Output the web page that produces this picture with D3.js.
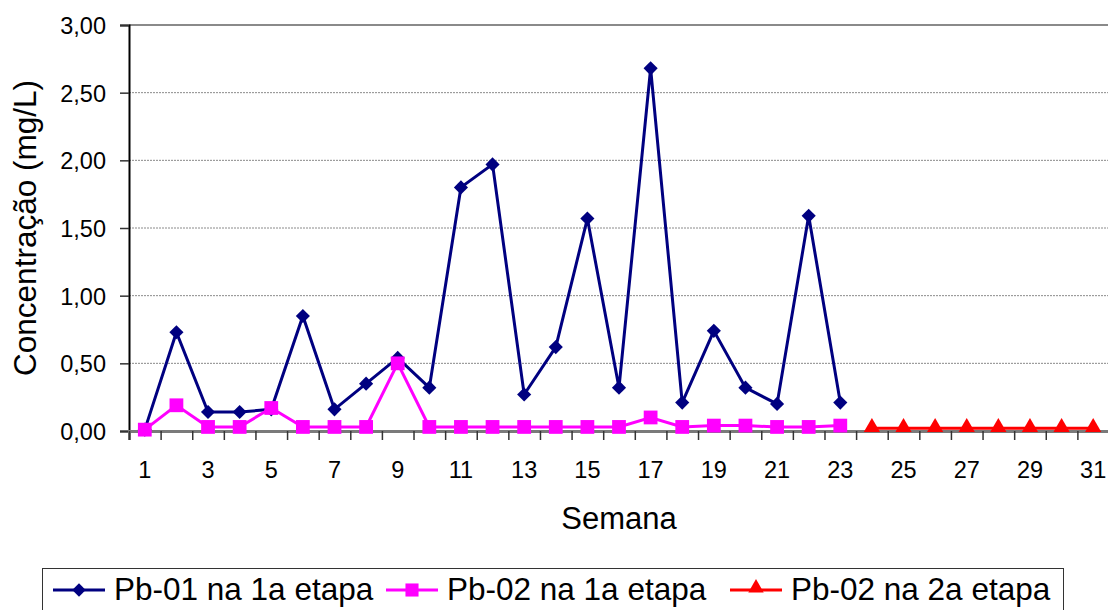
<!DOCTYPE html>
<html><head><meta charset="utf-8">
<script src="https://cdn.jsdelivr.net/npm/d3@7"></script>
<style>
html,body{margin:0;padding:0;background:#fff;}
svg{display:block;font-family:"Liberation Sans",Arial,sans-serif;}
</style></head>
<body><svg id="c" width="1108" height="610"></svg>
<script>
const weeks = d3.range(1, 32);
const yTicks = [0, 0.5, 1, 1.5, 2, 2.5, 3];
const xLabels = [1,3,5,7,9,11,13,15,17,19,21,23,25,27,29,31];
const pb01Weeks = d3.range(1, 24);
const pb01Values = [0.01,0.73,0.14,0.14,0.16,0.85,0.16,0.35,0.54,0.32,1.80,1.97,0.27,0.62,1.57,0.32,2.68,0.21,0.74,0.32,0.20,1.59,0.21];
const pb02aWeeks = d3.range(1, 24);
const pb02aValues = [0.01,0.19,0.03,0.03,0.17,0.03,0.03,0.03,0.50,0.03,0.03,0.03,0.03,0.03,0.03,0.03,0.10,0.03,0.04,0.04,0.03,0.03,0.04];
const pb02bWeeks = d3.range(24, 32);
const pb02bValues = [0.02,0.02,0.02,0.02,0.02,0.02,0.02,0.02];
const seriesNames = ["Pb-01 na 1a etapa","Pb-02 na 1a etapa","Pb-02 na 2a etapa"];
const seriesColors = ["#000080","#FF00FF","#FF0000"];

const svg = d3.select("#c");
const L = 129, R = 1109, T = 25, B = 431;
const x = d3.scaleLinear().domain([0.5, 31.5]).range([L, R]);
const y = d3.scaleLinear().domain([0, 3]).range([B, T]);

// gridlines
svg.append("g").selectAll("line").data(yTicks.filter(v => v > 0 && v < 3)).join("line")
  .attr("x1", L).attr("x2", R).attr("y1", d => y(d)).attr("y2", d => y(d))
  .attr("stroke", "#8a8a8a").attr("stroke-width", 1).attr("stroke-dasharray", "2,1");
svg.append("line").attr("x1", L).attr("x2", R).attr("y1", y(3)).attr("y2", y(3))
  .attr("stroke", "#8a8a8a").attr("stroke-width", 2);

// y axis
const yAxis = svg.append("g").attr("transform", `translate(${L},0)`)
  .call(d3.axisLeft(y).tickValues(yTicks).tickSize(9).tickPadding(14)
    .tickFormat(d => d3.format(".2f")(d).replace(".", ",")));
yAxis.select(".domain").attr("stroke", "#000").attr("stroke-width", 2);
yAxis.selectAll(".tick line").attr("stroke", "#333").attr("stroke-width", 1.5);
yAxis.selectAll("text").attr("font-size", 23.5).attr("fill", "#000").attr("dy", "0.36em");

// x axis
const xAxis = svg.append("g").attr("transform", `translate(0,${B})`)
  .call(d3.axisBottom(x).tickValues(d3.range(0.5, 32, 1)).tickSize(9).tickFormat(""));
xAxis.select(".domain").attr("stroke", "#7a7a7a").attr("stroke-width", 3);
xAxis.selectAll(".tick line").attr("stroke", "#333").attr("stroke-width", 1.5);
svg.append("g").selectAll("text").data(xLabels).join("text")
  .attr("x", d => x(d)).attr("y", 478).attr("text-anchor", "middle")
  .attr("font-size", 23.5).attr("fill", "#000").text(d => d);

// axis titles
svg.append("text").attr("x", (L + R) / 2).attr("y", 529).attr("text-anchor", "middle")
  .attr("font-size", 31).text("Semana");
svg.append("text").attr("transform", `translate(36,${(T + B) / 2}) rotate(-90)`)
  .attr("text-anchor", "middle").attr("font-size", 31.5).text("Concentração (mg/L)");

const sym = [d3.symbolSquare, d3.symbolSquare, d3.symbolTriangle];
const symSize = [100, 190, 115];
const symRot = [45, 0, 0];
function drawSeries(ws, vs, i) {
  const data = ws.map((w, k) => [w, vs[k]]);
  svg.append("path").datum(data)
    .attr("d", d3.line().x(d => x(d[0])).y(d => y(d[1])))
    .attr("fill", "none").attr("stroke", seriesColors[i]).attr("stroke-width", 3);
  svg.append("g").selectAll("path").data(data).join("path")
    .attr("transform", d => `translate(${x(d[0])},${y(d[1]) + (i === 2 ? -1 : 0)}) rotate(${symRot[i]})`)
    .attr("d", d3.symbol(sym[i], symSize[i])).attr("fill", seriesColors[i]);
}
drawSeries(pb01Weeks, pb01Values, 0);
drawSeries(pb02aWeeks, pb02aValues, 1);
drawSeries(pb02bWeeks, pb02bValues, 2);

// legend
const lg = svg.append("g");
lg.append("rect").attr("x", 42.5).attr("y", 568.5).attr("width", 1021).attr("height", 60)
  .attr("fill", "#fff").attr("stroke", "#333").attr("stroke-width", 1);
const itemX = [53, 386, 730];
seriesNames.forEach((n, i) => {
  const g = lg.append("g").attr("transform", `translate(${itemX[i]},0)`);
  g.append("line").attr("x1", 0).attr("x2", 52).attr("y1", 590).attr("y2", 590)
    .attr("stroke", seriesColors[i]).attr("stroke-width", 3);
  g.append("path").attr("transform", `translate(26,${i === 2 ? 588 : 590}) rotate(${symRot[i]})`)
    .attr("d", d3.symbol(sym[i], symSize[i] * 0.9)).attr("fill", seriesColors[i]);
  g.append("text").attr("x", 61).attr("y", 600).attr("font-size", 31.5).text(n);
});
</script></body></html>
